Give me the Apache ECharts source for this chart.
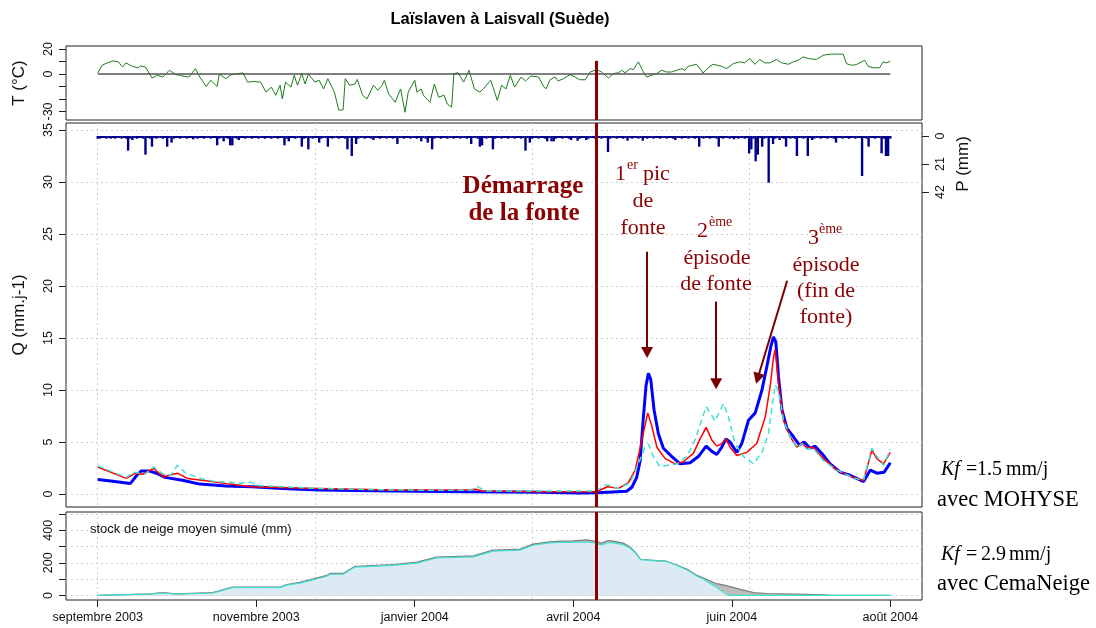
<!DOCTYPE html>
<html><head><meta charset="utf-8">
<script src="https://cdn.jsdelivr.net/npm/echarts@6/dist/echarts.min.js"></script>
<style>html,body{margin:0;padding:0;background:#fff}#c{width:1096px;height:628px}</style>
</head><body><div id="c"></div>
<script>
// ---------- DATA (day index from start of series) ----------
const xLabels = ['septembre 2003','novembre 2003','janvier 2004','avril 2004','juin 2004','août 2004'];
const xTickDays = [0, 73, 146, 219, 292, 365];
const gridDays = [0, 100, 200, 300];
const meltStartDay = 229.5;

const tTicks = [-30, -20, -10, 0, 10, 20];
const tLabels = [-30, 0, 20];
const qTicks = [0, 5, 10, 15, 20, 25, 30, 35];
const pTicks = [0, 21, 42];
const sTicks = [0, 100, 200, 300, 400, 500];
const sLabels = [0, 200, 400];

const temperature = [[0,0.8],[2,7],[4.6,9],[7,10.5],[9.5,9.7],[11.5,5.6],[13,8.9],[15,7],[16,6.2],[18.5,4.8],[19.7,6.5],[22,5.6],[25,-3.2],[27.5,-1],[30,-2.4],[33,3],[36,-0.5],[38,-1],[40,-2],[42,-2.4],[45,4.3],[47,-2.4],[50,-10],[52,-5],[55,-10],[56,0],[59,-3.8],[61,-1],[64,0.3],[67,0.8],[69,-6.5],[72,-6],[75,-6.5],[77.5,-14.5],[80,-10.5],[82,-17],[84,-9],[85,-20],[86.5,-6.5],[89,-10.5],[90.5,-1],[92,-9],[94,0.3],[95.5,-8],[97,0],[100,-6.5],[102,-5],[104,-12],[106,-3.8],[109,-14.5],[111,-28.8],[113,-28.8],[114,-3.8],[116,-9],[118.5,-8],[119.5,-4.3],[122,-17],[124,-20],[127,-9],[129,-13],[131,-9],[132,-5],[134,-16],[137,-22.6],[138.5,-16],[139.5,-12],[141.5,-30.6],[143,-14.5],[146,-5],[147,-14.5],[149,-12],[150,-17],[153,-22.6],[155,-8],[157,-18.5],[159.5,-17],[161,-24],[163,-26.6],[164,0.3],[166,1],[168.5,-6.5],[171,3],[173.5,-12],[176,-14.5],[177.5,-12],[181,-5],[182.5,-13],[184,-21],[186,-9],[188,-12],[190,-1],[192,-10.5],[195,-2.4],[197,-5.6],[199.5,-1.6],[203,-2.4],[205.5,-10.5],[206.5,-11.8],[208.3,-4.6],[210.6,-2.4],[212,-5.6],[214.4,-3.8],[217.5,-0.5],[219.8,-2.4],[222,-4.6],[224.5,-4.6],[226.8,1.6],[229.8,3.5],[232,1.6],[235.2,-3.2],[237.5,0.3],[239.8,1],[241.3,3],[242.9,1],[245.2,4.3],[246.7,3.5],[249,9.7],[251.3,1.6],[252.8,-2.4],[255.1,-1],[257.4,0.3],[259.7,3],[262,1.6],[264.3,1.6],[266.6,3],[268.9,4.3],[270.4,3],[272,6.2],[275.8,7.8],[278.8,0.8],[281.1,5],[283.4,7.8],[287.3,6.2],[289.6,4.3],[292.7,8.3],[295.7,9.7],[298,9],[300.3,12.4],[302.6,7.8],[304.9,11.6],[307.2,8.9],[309.5,8.9],[312.6,11.6],[314.9,9],[318,7.8],[320.3,9.7],[322.6,11],[324.9,13.7],[327.2,12.4],[331,11.6],[334.1,15],[337.2,15.9],[339.5,15.9],[343.3,15.9],[344.8,8.3],[347.1,7],[349.4,7.5],[351.7,9.7],[353.2,11],[354.8,6.2],[357.1,5],[360.1,5],[361.7,9.7],[363.2,8.9],[365,10.2]];

// daily precipitation (mm), day 0..365
const precip = [
 2,2,1.5,1.5,2,1.5,2,1.5,2,1.5,1.5,2,1.5,2,11,2,3,1.5,2,1.5,
 1.5,2,14,1.5,2,8,1.5,2,1.5,1.5,2,1.5,8,1.5,5,2,1.5,1.5,2,1.5,
 1.5,2,1.5,1.5,2.5,1.5,2,1.5,1.5,2,1.5,1.5,2,1.5,1.5,7,2,1.5,4,1.5,
 2,7,7,1.5,2,3,1.5,1.5,2,1.5,1.5,2,1.5,1.5,2,1.5,1.5,2,1.5,1.5,
 2,1.5,1.5,2,1.5,1.5,7,2,4,1.5,1.5,2,1.5,1.5,8,2,1.5,10,1.5,2,
 1.5,1.5,5,2,1.5,1.5,8,1.5,2,1.5,1.5,2,1.5,1.5,2,10,1.5,15,1.5,6,
 2,1.5,1.5,2,1.5,1.5,2,3,1.5,1.5,2,1.5,1.5,2,1.5,1.5,2,1.5,6,1.5,
 1.5,2,1.5,1.5,2,1.5,1.5,2,1.5,4,1.5,2,5,1.5,10,2,1.5,1.5,2,1.5,
 1.5,2,1.5,1.5,2,1.5,1.5,2,1.5,1.5,2,1.5,6,1.5,1.5,2,8,7,1.5,2,
 1.5,1.5,10,2,1.5,1.5,2,1.5,1.5,2,1.5,1.5,2,1.5,1.5,2,1.5,11,1.5,5,
 2,1.5,1.5,2,1.5,1.5,2,4,1.5,4,4,2,1.5,1.5,2,1.5,1.5,2,3,1.5,
 1.5,3.5,2,1.5,1.5,3,2,1.5,1.5,2,1.5,1.5,2,1.5,1.5,12,2,1.5,1.5,2,
 1.5,1.5,2,1.5,3.5,1.5,2,1.5,1.5,2,1.5,3.5,1.5,2,1.5,1.5,2,1.5,1.5,2,
 1.5,1.5,2,1.5,1.5,2,3,1.5,1.5,2,1.5,1.5,2,1.5,1.5,2,1.5,8,1.5,2,
 1.5,1.5,2,1.5,1.5,2,8,1.5,2,1.5,1.5,2,1.5,2.5,1.5,2,1.5,1.5,2,1.5,
 13,10,2,19,14,1.5,8,2,1.5,35,1.5,6,2,1.5,3,1.5,2,8,1.5,2,
 1.5,2,15,1.5,1.5,2,1.5,15,1.5,3,2,1.5,1.5,2,1.5,1.5,2,1.5,1.5,2,
 5,1.5,1.5,2,1.5,1.5,2,1.5,1.5,2,1.5,1.5,30,1.5,2,8,1.5,1.5,2,1.5,
 1.5,13,2,15,15,2
];

const qObserved = [[0,1.4],[6,1.25],[15,1.0],[18,1.8],[20,2.2],[24,2.2],[27,2.0],[31,1.6],[39,1.33],[47,0.95],[59,0.76],[71,0.7],[85,0.54],[102,0.38],[136,0.29],[170,0.22],[204,0.16],[222,0.1],[230,0.13],[237,0.2],[243.6,0.26],[246,0.65],[248.2,1.6],[249.8,3.2],[251.3,7.4],[252.5,10.4],[253.6,11.6],[254.7,11.0],[256.2,8.1],[258.2,5.8],[260.5,4.4],[264.4,3.6],[268.2,2.9],[272.8,3.0],[276.6,3.6],[280.2,4.6],[282.8,4.1],[285.1,3.8],[287.4,4.5],[289.3,5.3],[291.2,5.0],[294.3,4.0],[296.6,4.85],[299.7,7.1],[302.8,7.8],[305.9,10.0],[308.2,12.3],[310,14.2],[311.2,15.1],[312.3,14.6],[313.5,11.3],[315.1,8.1],[317.4,6.3],[320.4,5.5],[323.2,4.7],[325.3,5.0],[328.1,4.4],[330.4,4.6],[333.5,3.9],[337.3,2.9],[341.9,2.1],[346.5,1.8],[352.7,1.2],[355.8,2.3],[358.8,2.0],[362.2,2.1],[365,3.0]];

const qMohyse = [[0,2.6],[13.2,1.5],[17.4,2.0],[20.7,1.9],[25.8,2.45],[30.2,1.65],[36.7,2.0],[41.3,1.5],[50.7,1.24],[60.8,0.95],[71,0.7],[101.8,0.54],[136,0.38],[171.4,0.4],[174.2,0.45],[177,0.3],[204,0.22],[229.5,0.22],[234.8,0.7],[239.9,0.54],[244.4,1.1],[247.5,2.3],[250.6,5.2],[253.3,7.8],[255.2,6.5],[257.5,4.5],[261.3,3.4],[265.9,2.9],[269.7,3.1],[274.3,3.9],[277.4,5.3],[280.2,6.4],[282.8,5.2],[285.1,4.6],[287.4,4.85],[289.3,5.3],[291.2,4.5],[294.3,3.7],[298.9,4.0],[303.5,4.85],[307.4,7.4],[309.7,10.4],[311.2,13.1],[312,13.9],[313.5,10.7],[315.8,7.1],[318.9,5.5],[322,4.5],[324.3,4.9],[326.6,4.4],[329.5,4.5],[334.2,3.4],[340.4,2.3],[348,1.6],[352.7,1.3],[356.5,4.2],[358.8,3.4],[361.9,2.9],[365,4.0]];

const qCemaNeige = [[0,2.7],[13.2,1.6],[16.6,2.1],[21.7,1.9],[25.8,2.6],[30.2,1.9],[33.6,1.8],[36.7,2.76],[40.6,2.0],[47.3,1.5],[53.9,1.2],[60.8,1.14],[64.5,1.0],[70.3,1.14],[74.7,0.8],[101.8,0.54],[136,0.38],[171.4,0.35],[175,0.7],[178.3,0.3],[229.5,0.3],[234,0.86],[235,0.87],[239.9,0.5],[245.2,1.1],[249,2.9],[252,4.5],[253.6,4.8],[255.9,3.6],[259,2.6],[262,2.75],[266.7,2.9],[271.3,3.6],[275.1,5.2],[280.2,8.4],[282,7.8],[284.3,7.0],[288.2,8.7],[290.5,7.4],[293.5,4.85],[297.4,3.6],[302,2.9],[305.9,4.0],[308.9,5.8],[310.4,8.1],[312,10.5],[313.5,9.9],[315.8,7.1],[318.9,5.5],[322,4.4],[324.3,4.85],[326.6,4.3],[329.5,4.4],[334.2,3.2],[340.4,2.3],[348,1.55],[352.7,1.3],[356.5,4.4],[358.8,3.6],[361.9,2.75],[365,4.3]];

const snowMohyse = [[0,0],[24,10],[30,18],[36,10],[53,18],[55,25],[62,51],[84,51],[87,67],[93,80],[99,100],[105.5,123],[107,135],[113,135],[118.5,179],[136,189],[147,204],[156,236],[173,243],[182,278],[194.5,284],[200.5,315],[208,329],[213,333],[219,335],[225,341],[229,333],[232,321],[235,337],[237.5,333],[242,321],[245,298],[247.5,267],[250,222],[257.5,214],[262,210],[267,185],[271.5,160],[276,123],[279,107],[285,72],[289,62],[296,37],[302,17],[308,12],[327,6],[337,2],[365,0]];

const snowCemaNeige = [[0,0],[24,8],[30,15],[36,8],[53,15],[55,22],[62,48],[84,48],[87,63],[93,76],[99,95],[105.5,118],[107,130],[113,130],[118.5,174],[136,184],[147,198],[156,230],[173,237],[182,272],[194.5,278],[200.5,308],[208,322],[213,326],[219,326],[225,328],[229,322],[232,310],[235,325],[237.5,322],[242,312],[245,292],[247.5,262],[250,220],[257.5,212],[262,208],[267,182],[271.5,156],[276,118],[279,99],[285,51],[289,12],[291,0],[365,0]];

// annotation arrows, in (day, Q) units: [start, end]
const arrows = [
  [[253, 23.3], [253, 13.6]],
  [[284.8, 18.5], [284.8, 10.6]],
  [[317.5, 20.5], [303.9, 11.1]]
];

// ---------- CHART ----------
const SANS = 'Liberation Sans, Arial, sans-serif';
const SERIF = 'Liberation Serif, Times New Roman, serif';
const DARKRED = '#8b0000';
const X_MIN = -14.6, X_MAX = 379.6;
const LEFT = 66, RIGHT = 1096 - 922;
const DOT = {color: '#d0d0d0', width: 1, type: [2, 3]};
const NOLINE = {show: false, onZero: false};

function hiddenX(gridIndex, extra) {
  return Object.assign({type: 'value', gridIndex, min: X_MIN, max: X_MAX,
    axisLine: NOLINE, axisTick: {show: false}, axisLabel: {show: false},
    splitLine: {show: false}}, extra || {});
}
const tickStyle = {color: '#222', width: 1};
const labStyle = {fontFamily: SANS, fontSize: 12.5, color: '#111'};
const nameStyle = {fontFamily: SANS, fontSize: 17, color: '#111'};

const chart = echarts.init(document.getElementById('c'));
const gridBase = {left: LEFT, right: RIGHT, outerBoundsMode: 'none', containLabel: false};

const textEls = [];
function txt(text, x, y, opts) {
  textEls.push({type: 'text', x, y, silent: true, z: 100, style: Object.assign({
    text, fill: DARKRED, font: '22px ' + SERIF, textAlign: 'left', textVerticalAlign: 'middle'}, opts || {})});
}
// "Démarrage de la fonte"
txt('Démarrage', 523, 187, {font: 'bold 25px ' + SERIF, textAlign: 'center'});
txt('de la fonte', 524, 214, {font: 'bold 25px ' + SERIF, textAlign: 'center'});
// 1er pic de fonte
txt('1', 615, 174);
txt('er', 627, 165, {font: '14px ' + SERIF});
txt('pic', 643, 174);
txt('de', 643, 201, {textAlign: 'center'});
txt('fonte', 643, 228, {textAlign: 'center'});
// 2ème épisode de fonte
txt('2', 697, 231);
txt('ème', 709, 222, {font: '14px ' + SERIF});
txt('épisode', 717, 258, {textAlign: 'center'});
txt('de fonte', 716, 284, {textAlign: 'center'});
// 3ème épisode (fin de fonte)
txt('3', 808, 238);
txt('ème', 819, 229, {font: '14px ' + SERIF});
txt('épisode', 826, 265, {textAlign: 'center'});
txt('(fin de', 826, 291, {textAlign: 'center'});
txt('fonte)', 826, 317, {textAlign: 'center'});
// right-hand notes
const BLK = '#000';
txt('Kf', 941, 470, {fill: BLK, font: 'italic 20px ' + SERIF});
txt('=', 966, 470, {fill: BLK, font: '20px ' + SERIF});
txt('1.5', 977, 470, {fill: BLK, font: '20px ' + SERIF});
txt('mm/j', 1006, 470, {fill: BLK, font: '20px ' + SERIF});
txt('avec MOHYSE', 937, 500, {fill: BLK, font: '22.5px ' + SERIF});
txt('Kf', 941, 555, {fill: BLK, font: 'italic 20px ' + SERIF});
txt('=', 966, 555, {fill: BLK, font: '20px ' + SERIF});
txt('2.9', 981, 555, {fill: BLK, font: '20px ' + SERIF});
txt('mm/j', 1009, 555, {fill: BLK, font: '20px ' + SERIF});
txt('avec CemaNeige', 937, 584, {fill: BLK, font: '22.5px ' + SERIF});
// snow panel caption
txt('stock de neige moyen simulé (mm)', 90, 529, {fill: '#111', font: '13px ' + SANS});

const redLine = {color: DARKRED, width: 3, type: 'solid'};

const option = {
  animation: false,
  backgroundColor: '#fff',
  title: {text: 'Laïslaven à Laisvall (Suède)', left: 495, top: 6, textAlign: 'center',
    textStyle: {fontFamily: SANS, fontSize: 16.5, fontWeight: 'bold', color: '#000'}},
  grid: [
    Object.assign({top: 46, height: 74, show: true, borderColor: '#222', borderWidth: 1}, gridBase),
    Object.assign({top: 123, height: 384, show: true, borderColor: '#222', borderWidth: 1}, gridBase),
    Object.assign({top: 136, height: 56, show: false}, gridBase),
    Object.assign({top: 512, height: 88, show: true, borderColor: '#222', borderWidth: 1}, gridBase)
  ],
  xAxis: [
    hiddenX(0),
    hiddenX(1, {axisTick: {show: false, customValues: gridDays}, splitLine: {show: true, lineStyle: DOT}}),
    hiddenX(2),
    {type: 'value', gridIndex: 3, min: X_MIN, max: X_MAX, position: 'bottom',
      axisLine: NOLINE,
      axisTick: {show: true, customValues: xTickDays, length: 7, lineStyle: tickStyle},
      axisLabel: Object.assign({customValues: xTickDays, margin: 11,
        formatter: v => xLabels[xTickDays.indexOf(v)]}, labStyle),
      splitLine: {show: false}},
    hiddenX(3, {axisTick: {show: false, customValues: gridDays}, splitLine: {show: true, lineStyle: DOT}})
  ],
  yAxis: [
    {type: 'value', gridIndex: 0, min: -36.8, max: 22.4,
      name: 'T (°C)', nameLocation: 'middle', nameRotate: 90, nameGap: 38, nameTextStyle: nameStyle,
      axisLine: NOLINE,
      axisTick: {show: true, customValues: tTicks, length: 7, lineStyle: tickStyle},
      axisLabel: Object.assign({customValues: tLabels, rotate: 90, margin: 11}, labStyle),
      splitLine: {show: false}},
    {type: 'value', gridIndex: 1, min: -1.25, max: 35.67,
      name: 'Q (mm.j-1)', nameLocation: 'middle', nameRotate: 90, nameGap: 38, nameTextStyle: nameStyle,
      axisLine: NOLINE,
      axisTick: {show: true, customValues: qTicks, length: 7, lineStyle: tickStyle},
      axisLabel: Object.assign({customValues: qTicks, rotate: 90, margin: 11}, labStyle),
      splitLine: {show: true, lineStyle: DOT}},
    {type: 'value', gridIndex: 2, position: 'right', inverse: true, min: 0, max: 42, interval: 21,
      name: 'P (mm)', nameLocation: 'middle', nameRotate: 90, nameGap: 23, nameTextStyle: nameStyle,
      axisLine: NOLINE,
      axisTick: {show: true, customValues: pTicks, length: 7, lineStyle: tickStyle},
      axisLabel: Object.assign({customValues: pTicks, rotate: 90, margin: 12}, labStyle),
      splitLine: {show: false}},
    {type: 'value', gridIndex: 3, min: -28, max: 512,
      axisLine: NOLINE,
      axisTick: {show: true, customValues: sTicks, length: 7, lineStyle: tickStyle},
      axisLabel: Object.assign({customValues: sLabels, rotate: 90, margin: 11}, labStyle),
      splitLine: {show: true, lineStyle: DOT}}
  ],
  series: [
    {type: 'line', xAxisIndex: 0, yAxisIndex: 0, data: temperature, showSymbol: false,
      lineStyle: {color: '#1e7b1e', width: 1}, itemStyle: {color: '#1e7b1e'},
      markLine: {silent: true, symbol: ['none', 'none'], label: {show: false}, animation: false,
        data: [
          [{coord: [0, 0], lineStyle: {color: '#555', width: 1.5, type: 'solid'}}, {coord: [365, 0]}],
          [{coord: [meltStartDay, 10.5], lineStyle: redLine}, {coord: [meltStartDay, -36.8]}]
        ]}},
    {type: 'bar', xAxisIndex: 2, yAxisIndex: 2, data: precip.map((v, i) => [i, v]),
      barWidth: 2.4, itemStyle: {color: '#00008b'}},
    {type: 'line', xAxisIndex: 1, yAxisIndex: 1, data: qObserved, showSymbol: false,
      lineStyle: {color: '#0000ff', width: 3}, itemStyle: {color: '#0000ff'}, z: 2},
    {type: 'line', xAxisIndex: 1, yAxisIndex: 1, data: qMohyse, showSymbol: false,
      lineStyle: {color: '#ff0000', width: 1.5}, itemStyle: {color: '#ff0000'}, z: 3},
    {type: 'line', xAxisIndex: 1, yAxisIndex: 1, data: qCemaNeige, showSymbol: false,
      lineStyle: {color: '#40e0d0', width: 1.5, type: [6, 4]}, itemStyle: {color: '#40e0d0'}, z: 4,
      markLine: {silent: true, label: {show: false}, animation: false, symbol: ['none', 'none'],
        data: [
          {xAxis: meltStartDay, lineStyle: redLine}
        ].concat(arrows.map(a => [
          {coord: a[0], symbol: 'none', lineStyle: {color: '#7a0000', width: 2, type: 'solid'}},
          {coord: a[1], symbol: 'triangle', symbolSize: [12, 11]}
        ]))}},
    {type: 'line', xAxisIndex: 3, yAxisIndex: 3, data: snowMohyse, showSymbol: false,
      lineStyle: {color: '#7f7f7f', width: 1.2}, itemStyle: {color: '#7f7f7f'},
      areaStyle: {color: '#bdbdbd', opacity: 1}},
    {type: 'line', xAxisIndex: 3, yAxisIndex: 3, data: snowCemaNeige, showSymbol: false,
      lineStyle: {color: '#40e0d0', width: 1.2}, itemStyle: {color: '#40e0d0'},
      areaStyle: {color: '#dcebf3', opacity: 1},
      markLine: {silent: true, symbol: ['none', 'none'], label: {show: false}, animation: false,
        data: [{xAxis: meltStartDay, lineStyle: redLine}]}}
  ],
  graphic: textEls
};
chart.setOption(option);
</script>
</body></html>
